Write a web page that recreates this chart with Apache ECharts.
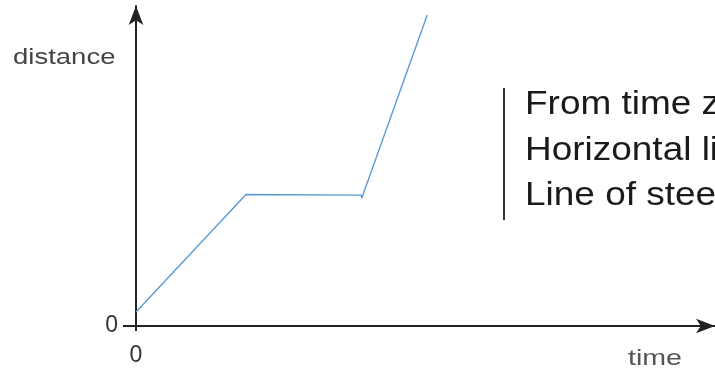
<!DOCTYPE html>
<html>
<head>
<meta charset="utf-8">
<script src="https://cdn.jsdelivr.net/npm/echarts@6/dist/echarts.min.js"></script>
<style>html,body{margin:0;padding:0;background:#fff}#c{width:715px;height:373px}</style>
</head>
<body>
<div id="c"></div>
<script>
// Data (axis units: time 0..100, distance 0..100)
const timeValues = [0, 19.0, 38.9, 39.0, 50.3];
const distanceValues = [4.4, 41.1, 40.9, 40.0, 97.2];
const tickLabels = [0];
const axisNames = { x: 'time', y: 'distance' };
const noteLines = ['From time zero', 'Horizontal line', 'Line of steeper'];

const chart = echarts.init(document.getElementById('c'));
const font = '"Liberation Sans", Arial, sans-serif';
const points = timeValues.map((t, i) => [t, distanceValues[i]]);

const axisCommon = {
  type: 'value', min: 0, max: 100,
  splitLine: { show: false },
  axisLine: { show: true, symbol: ['none', 'arrow'], symbolSize: [11, 19],
    lineStyle: { color: '#222', width: 2 } },
  axisTick: { show: true, customValues: tickLabels, length: 13, lineStyle: { color: '#222', width: 2 } },
  axisLabel: { show: true, customValues: tickLabels, fontSize: 23, color: '#333', fontFamily: font }
};

chart.setOption({
  animation: false,
  backgroundColor: '#fff',
  grid: { left: 136, right: 0, top: 6, bottom: 47, containLabel: false },
  xAxis: Object.assign({}, axisCommon, {
    axisTick: Object.assign({}, axisCommon.axisTick, { length: 5 }),
    axisLabel: Object.assign({}, axisCommon.axisLabel, { margin: 18 })
  }),
  yAxis: Object.assign({}, axisCommon, {
    axisLabel: Object.assign({}, axisCommon.axisLabel, { margin: 18 })
  }),
  series: [{
    type: 'line', data: points, symbol: 'none', z: 1,
    lineStyle: { color: '#5b9bd5', width: 1.4 }
  }],
  graphic: [
    { type: 'text', x: 13, y: 58, scaleX: 1.25,
      style: { text: axisNames.y, font: '22px ' + font, fill: '#444', textAlign: 'left', textVerticalAlign: 'middle' } },
    { type: 'text', x: 628, y: 359, scaleX: 1.3,
      style: { text: axisNames.x, font: '22px ' + font, fill: '#555', textAlign: 'left', textVerticalAlign: 'middle' } },
    { type: 'line', shape: { x1: 504, y1: 88, x2: 504, y2: 220 }, style: { stroke: '#333', lineWidth: 2 } },
    { type: 'text', x: 525, y: 105, scaleX: 1.12,
      style: { text: noteLines[0], font: '33px ' + font, fill: '#1a1a1a', textAlign: 'left', textVerticalAlign: 'middle' } },
    { type: 'text', x: 525, y: 151, scaleX: 1.12,
      style: { text: noteLines[1], font: '33px ' + font, fill: '#1a1a1a', textAlign: 'left', textVerticalAlign: 'middle' } },
    { type: 'text', x: 525, y: 196, scaleX: 1.12,
      style: { text: noteLines[2], font: '33px ' + font, fill: '#1a1a1a', textAlign: 'left', textVerticalAlign: 'middle' } }
  ]
});
</script>
</body>
</html>
